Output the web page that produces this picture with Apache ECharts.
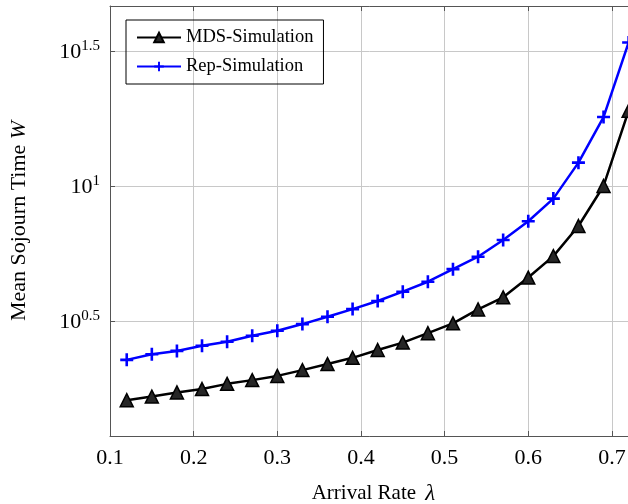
<!DOCTYPE html>
<html>
<head>
<meta charset="utf-8">
<script src="https://cdn.jsdelivr.net/npm/echarts@6/dist/echarts.min.js"></script>
<style>
html, body { margin: 0; padding: 0; background: #fff; }
#chart { width: 628px; height: 504px; }
</style>
</head>
<body>
<div id="chart"></div>
<script>
// arrival rates
const lambdas = [0.12, 0.15, 0.18, 0.21, 0.24, 0.27, 0.30, 0.33, 0.36, 0.39, 0.42,
    0.45, 0.48, 0.51, 0.54, 0.57, 0.60, 0.63, 0.66, 0.69, 0.72];
// mean sojourn time
const mdsSim = [1.61, 1.66, 1.72, 1.77, 1.85, 1.91, 1.98, 2.08, 2.19, 2.31, 2.47,
    2.63, 2.85, 3.10, 3.49, 3.87, 4.58, 5.50, 7.11, 10.0, 19.0];
const repSim = [2.27, 2.38, 2.45, 2.56, 2.65, 2.79, 2.91, 3.08, 3.28, 3.50, 3.75,
    4.06, 4.42, 4.92, 5.47, 6.31, 7.40, 8.98, 12.2, 18.0, 34.0];
const xTicks = ['0.1', '0.2', '0.3', '0.4', '0.5', '0.6', '0.7'];

const font = 'Liberation Serif';
const plusPath = 'path://M-0.2,-1L0.2,-1L0.2,-0.2L1,-0.2L1,0.2L0.2,0.2L0.2,1L-0.2,1L-0.2,0.2L-1,0.2L-1,-0.2L-0.2,-0.2Z';

const chart = echarts.init(document.getElementById('chart'));

function pairs(ys) {
    return lambdas.map((x, i) => [x, ys[i]]);
}

const tickStyle = { show: true, inside: true, length: 5, lineStyle: { color: '#555', width: 1 } };

const option = {
    animation: false,
    backgroundColor: '#fff',
    textStyle: { fontFamily: font },
    grid: { left: 110, right: -9, top: 6, bottom: 68, outerBoundsMode: 'none', containLabel: false },
    legend: {
        orient: 'vertical',
        left: 126,
        top: 20,
        padding: [8, 10, 8, 10],
        itemGap: 10,
        itemWidth: 44,
        itemHeight: 12,
        borderColor: '#000',
        borderWidth: 1,
        borderRadius: 0,
        textStyle: { fontFamily: font, fontSize: 18.5, color: '#000' },
        data: ['MDS-Simulation', 'Rep-Simulation']
    },
    xAxis: [{
        type: 'value',
        min: 0.1,
        max: 0.73,
        interval: 0.1,
        name: 'Arrival Rate {i|λ}',
        nameLocation: 'middle',
        nameGap: 46,
        nameTextStyle: {
            fontFamily: font, fontSize: 21, color: '#000',
            rich: { i: { fontFamily: font, fontSize: 23, fontStyle: 'italic', color: '#000', padding: [0, 0, 0, 4] } }
        },
        axisLine: { show: true, onZero: false, lineStyle: { color: '#555', width: 1 } },
        axisTick: tickStyle,
        axisLabel: {
            fontFamily: font, fontSize: 22, color: '#000', margin: 11,
            showMaxLabel: false,
            formatter: v => xTicks.find(t => Math.abs(parseFloat(t) - v) < 1e-6) || ''
        },
        splitLine: { show: true, lineStyle: { color: '#c8c8c8', width: 1 } }
    }, {
        type: 'value',
        position: 'top',
        min: 0.1,
        max: 0.73,
        interval: 0.1,
        axisLine: { show: true, onZero: false, lineStyle: { color: '#555', width: 1 } },
        axisTick: tickStyle,
        axisLabel: { show: false },
        splitLine: { show: false }
    }],
    yAxis: [{
        type: 'log',
        logBase: Math.sqrt(10),
        min: 1.186,
        max: 46.4,
        name: 'Mean Sojourn Time {i|W}',
        nameLocation: 'middle',
        nameGap: 80,
        nameTextStyle: {
            fontFamily: font, fontSize: 22, color: '#000',
            rich: { i: { fontFamily: font, fontSize: 22, fontStyle: 'italic', color: '#000' } }
        },
        axisLine: { show: true, lineStyle: { color: '#555', width: 1 } },
        axisTick: tickStyle,
        axisLabel: {
            margin: 10,
            showMinLabel: false,
            showMaxLabel: false,
            formatter: v => {
                const e = Math.round(Math.log10(v) * 10) / 10;
                return '{b|10}{s|' + e + '}';
            },
            rich: {
                b: { fontFamily: font, fontSize: 22, color: '#000', verticalAlign: 'bottom' },
                s: { fontFamily: font, fontSize: 15, color: '#000', verticalAlign: 'bottom', padding: [0, 0, 10, 0] }
            }
        },
        splitLine: { show: true, lineStyle: { color: '#c8c8c8', width: 1 } }
    }],
    series: [{
        name: 'MDS-Simulation',
        type: 'line',
        data: pairs(mdsSim),
        symbol: 'triangle',
        symbolSize: 13,
        lineStyle: { color: '#000', width: 2.5 },
        itemStyle: { color: '#262626', borderColor: '#000', borderWidth: 1.5 },
        color: '#000'
    }, {
        name: 'Rep-Simulation',
        type: 'line',
        data: pairs(repSim),
        symbol: plusPath,
        symbolSize: 13,
        lineStyle: { color: '#0000ff', width: 2.5 },
        itemStyle: { color: '#0000ff' },
        color: '#0000ff'
    }]
};

chart.setOption(option);
</script>
</body>
</html>
